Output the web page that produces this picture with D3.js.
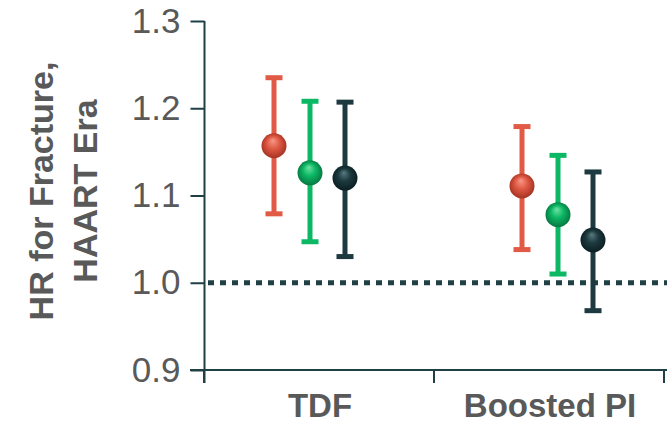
<!DOCTYPE html>
<html><head><meta charset="utf-8">
<script src="https://cdn.jsdelivr.net/npm/d3@7"></script>
<style>html,body{margin:0;padding:0;background:#fff;overflow:hidden}</style>
</head><body>
<svg id="chart" width="667" height="425"></svg>
<script>
// ---- data ----
const categories = ["TDF", "Boosted PI"];
const seriesNames = ["A", "B", "C"];
const hrValues = [[1.157, 1.126, 1.120], [1.111, 1.078, 1.049]];
const ciLow    = [[1.079, 1.047, 1.030], [1.038, 1.010, 0.968]];
const ciHigh   = [[1.235, 1.208, 1.207], [1.179, 1.146, 1.127]];
const yTicks = [0.9, 1.0, 1.1, 1.2, 1.3];
const refValue = 1.0;

// ---- layout / style ----
const colors = ["#E05A45", "#0DB865", "#1C3A3F"];
const lightColors = ["#F59A88", "#6FE3A4", "#5A7A7F"];
const darkColors = ["#9E2E1E", "#05703C", "#0A1B1E"];
const axisColor = "#1F4045";
const textColor = "#595959";
const seriesOffset = [-36, 0, 35];
const groupNudge = [-9, 9];

const svg = d3.select("#chart");
const y = d3.scaleLinear().domain([0.9, 1.3]).range([370, 21]);
const x = d3.scaleBand().domain(categories).range([204, 664]).padding(0);

// gradients
const defs = svg.append("defs");
colors.forEach((c, i) => {
  const g = defs.append("radialGradient").attr("id", "ball" + i)
    .attr("cx", "50%").attr("cy", "50%").attr("r", "55%").attr("fx", "45%").attr("fy", "28%");
  g.append("stop").attr("offset", "0%").attr("stop-color", lightColors[i]);
  g.append("stop").attr("offset", "45%").attr("stop-color", c);
  g.append("stop").attr("offset", "100%").attr("stop-color", darkColors[i]);
});

// y axis
const yAxis = d3.axisLeft(y).tickValues(yTicks).tickFormat(d3.format(".1f")).tickSize(14).tickSizeOuter(0);
const ya = svg.append("g").attr("transform", "translate(204.5,0)").call(yAxis);
ya.select(".domain").remove();
ya.selectAll(".tick line").attr("stroke", axisColor).attr("stroke-width", 2);
ya.selectAll(".tick text").attr("x", -24).attr("fill", textColor)
  .style("font-family", "'Liberation Sans', Arial, sans-serif").style("font-size", "35px");
svg.append("line").attr("x1", 204.5).attr("x2", 204.5).attr("y1", y(1.3)).attr("y2", 383)
  .attr("stroke", axisColor).attr("stroke-width", 2);

// x axis
svg.append("line").attr("x1", 190).attr("x2", 667).attr("y1", y(0.9)).attr("y2", y(0.9))
  .attr("stroke", axisColor).attr("stroke-width", 2);
const edges = [x(categories[0]), x(categories[1]), x(categories[1]) + x.bandwidth()];
svg.selectAll(".xtick").data(edges).enter().append("line")
  .attr("x1", d => d).attr("x2", d => d).attr("y1", y(0.9)).attr("y2", 383)
  .attr("stroke", axisColor).attr("stroke-width", 2);
svg.selectAll(".xlab").data(categories).enter().append("text")
  .attr("x", d => x(d) + x.bandwidth() / 2 + 1).attr("y", 417)
  .attr("text-anchor", "middle").attr("fill", textColor)
  .style("font-family", "'Liberation Sans', Arial, sans-serif").style("font-weight", "bold").style("font-size", "33px")
  .text(d => d);

// reference line
svg.append("line").attr("x1", 208).attr("x2", 667).attr("y1", y(refValue)).attr("y2", y(refValue))
  .attr("stroke", axisColor).attr("stroke-width", 5).attr("stroke-dasharray", "6,6");

// y title
const title = svg.append("text").attr("transform", "translate(53,191) rotate(-90)")
  .attr("text-anchor", "middle").attr("fill", textColor)
  .style("font-family", "'Liberation Sans', Arial, sans-serif").style("font-weight", "bold").style("font-size", "34px");
title.append("tspan").attr("x", 0).attr("y", 0).text("HR for Fracture,");
title.append("tspan").attr("x", 0).attr("y", 44).text("HAART Era");

// points
const pts = [];
categories.forEach((c, ci) => seriesNames.forEach((s, si) => {
  pts.push({ c, ci, si, v: hrValues[ci][si], lo: ciLow[ci][si], hi: ciHigh[ci][si],
    cx: x(c) + x.bandwidth() / 2 + groupNudge[ci] + seriesOffset[si] });
}));
const g = svg.selectAll(".pt").data(pts).enter().append("g");
g.append("line").attr("x1", d => d.cx).attr("x2", d => d.cx).attr("y1", d => y(d.hi)).attr("y2", d => y(d.lo))
  .attr("stroke", d => colors[d.si]).attr("stroke-width", 5);
g.append("rect").attr("x", d => d.cx - 8.5).attr("y", d => y(d.hi) - 2.5).attr("width", 17).attr("height", 5)
  .attr("fill", d => colors[d.si]);
g.append("rect").attr("x", d => d.cx - 8.5).attr("y", d => y(d.lo) - 2.5).attr("width", 17).attr("height", 5)
  .attr("fill", d => colors[d.si]);
g.append("circle").attr("cx", d => d.cx).attr("cy", d => y(d.v)).attr("r", 12.5)
  .attr("fill", d => "url(#ball" + d.si + ")");
</script>
</body></html>
